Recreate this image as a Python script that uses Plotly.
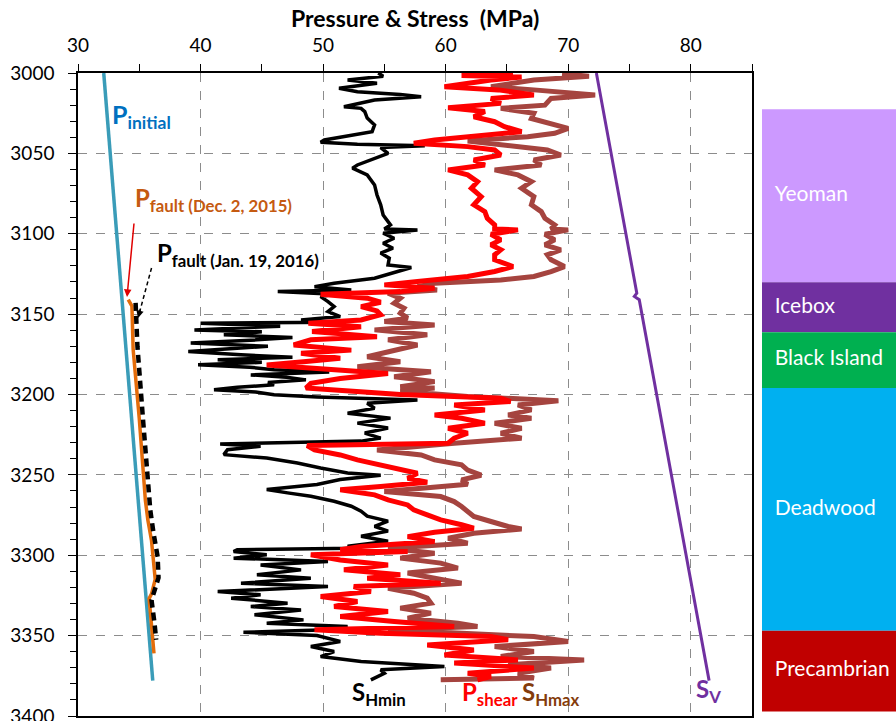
import plotly.graph_objects as go

# ---------------- data ----------------
shmin_depth = [3000, 3002, 3004.3, 3006.4, 3009.5, 3011.6, 3013.3, 3014.7, 3016.8, 3021, 3022, 3024, 3028, 3032.3,
               3036.5, 3038.6, 3041.7, 3043.1, 3044.4, 3045.2, 3046.4, 3050, 3053, 3057.2, 3059.2, 3063.4, 3069.6,
               3075.9, 3082, 3088.3, 3094.5, 3097.0, 3097.6, 3099.7, 3102.8, 3105.9, 3109, 3112, 3115.2, 3119.4,
               3121, 3123.5, 3127.7, 3130.8, 3132.9, 3135, 3136, 3137.6, 3139.1, 3142.2, 3145.3, 3148.4, 3151.5,
               3153.6, 3155.0, 3155.6, 3157.5, 3159.8, 3161, 3162.9, 3164.5, 3166, 3168, 3170, 3171.5, 3173.3,
               3175.3, 3176.8, 3178.4, 3180, 3181.5, 3183, 3184.6, 3186, 3187.8, 3189.3, 3190.9, 3192.5, 3194,
               3195.5, 3197.1, 3198.5, 3200.2, 3201.5, 3203.4, 3205.4, 3208.5, 3211.6, 3214.7,
               3217.8, 3220.9, 3224, 3227.1, 3229, 3230.8, 3232.2, 3234.3, 3237.4, 3239.5, 3242.6, 3245.7, 3248.8,
               3250.2, 3252.9, 3256, 3259.1, 3261.2, 3263.3, 3266.4, 3269.5, 3272.6, 3275.7, 3278.8, 3282, 3285,
               3288.2, 3291.3, 3294.4, 3295.6, 3296.5, 3297.7, 3299.7, 3301.8, 3303.9, 3306, 3309.1, 3312.2, 3314.3,
               3317.4, 3319.5, 3322.6, 3324.6, 3326.7, 3329.8, 3331.9, 3334, 3337, 3340.2, 3342.3, 3344.3, 3346.4,
               3347.9, 3349.9, 3353.6, 3356.8, 3359.9, 3363, 3366.1, 3369.2, 3371.3, 3373.4, 3375.4, 3377.5]
shmin_mpa = [54.5, 54.9, 52.0, 54.4, 51.3, 52.8, 56.3, 58.0, 54.2, 51.7, 53.1, 53.4, 53.6, 54.2,
             54.0, 52.5, 50.1, 49.8, 52.8, 58.3, 54.7, 55.3, 54.2, 52.8, 52.4, 53.6, 54.2,
             54.4, 54.7, 54.9, 55.5, 55.0, 57.7, 54.9, 55.8, 54.9, 55.7, 54.7, 55.4, 55.3,
             57.2, 56.1, 54.2, 50.9, 49.3, 52.3, 46.3, 50.9, 49.8, 50.4, 50.9, 50.4, 51.4,
             48.2, 51.6, 40.0, 46.5, 39.5, 45.0, 41.9, 47.5, 44.6, 39.2, 45.5, 42.0, 39.0,
             43.3, 47.5, 41.4, 45.0, 39.8, 44.0, 46.0, 50.5, 44.1, 47.0, 48.6, 45.5, 46.0,
             43.0, 41.1, 44.5, 46.0, 49.5, 57.7, 53.6, 54.2, 52.0, 55.5,
             52.8, 55.3, 53.4, 54.7, 53.1, 41.6, 44.9, 42.2, 41.9, 45.4, 47.9, 49.8, 52.0,
             54.7, 51.4, 49.5, 45.4, 47.1, 49.0, 50.9, 52.3, 53.1, 53.6, 55.3, 54.2, 55.3,
             53.1, 55.3, 52.0, 52.5, 43.0, 42.7, 45.4, 42.7, 50.4, 44.9, 48.2, 44.6, 49.0,
             43.3, 50.4, 41.4, 44.9, 42.5, 47.1, 44.1, 48.2, 44.4, 48.4, 45.4, 52.0, 50.4,
             43.5, 49.5, 51.4, 49.0, 50.9, 49.8, 53.1, 59.9, 54.7, 55.0, 54.4, 53.9]

pshear_depth = [3000.5, 3001.5, 3002.5, 3004.3, 3008.5, 3010.5, 3013.7, 3015.8, 3018.9, 3021.6, 3024, 3027.2,
                3030.3, 3033.4, 3036.5, 3038.6, 3041.7, 3043.7, 3045.8, 3047.9, 3051, 3054.1, 3057.2, 3060.3,
                3063.4, 3067.6, 3071.7, 3076.9, 3082, 3086.2, 3090.4, 3094.5, 3097.0, 3097.6, 3100.3, 3103.8,
                3106.9, 3110, 3113.1, 3116.2, 3120.4, 3123.5, 3126.6, 3129.7, 3131.8, 3133.9, 3136, 3137.6,
                3140.1, 3142.6, 3145.3, 3148, 3150.4, 3153.6, 3155.7, 3157.8, 3160.8, 3164, 3166, 3169.2,
                3172.4, 3174.4, 3177.5, 3179.6, 3181.7, 3183.8, 3186.9, 3190, 3193.1, 3196, 3198, 3200,
                3202.3, 3204.4, 3206.5, 3209.6, 3212.7, 3214.8, 3217.9, 3221, 3224.1, 3227.2, 3230.3, 3231.8,
                3234.5, 3237.6, 3240.7, 3243.8, 3247, 3249, 3252.1, 3254.6, 3257.3, 3259.3, 3262.4, 3265.6,
                3268.7, 3271.8, 3274.9, 3278, 3281, 3283.2, 3285.7, 3288.4, 3291.5, 3294.6, 3296.6, 3297.7,
                3299.7, 3302.9, 3306, 3309, 3312.2, 3314.3, 3317.4, 3319.5, 3322.6, 3325.7, 3328.8, 3331.9,
                3335, 3338.1, 3341.2, 3344.3, 3346.4, 3348.5, 3350.6, 3352.6, 3355.8, 3358.9, 3362, 3365.1,
                3367.1, 3370.2, 3373.4, 3375.4, 3377.5]
pshear_mpa = [65.5, 61.3, 66.2, 63.7, 59.9, 64.3, 67.2, 63.7, 64.5, 60.2, 63.2, 62.3,
              64.0, 64.8, 66.2, 63.2, 59.1, 57.4, 61.8, 64.0, 64.5, 62.3, 63.2, 60.2,
              61.8, 62.6, 62.1, 62.9, 62.3, 63.2, 63.4, 64.0, 64.0, 65.9, 63.7, 64.5,
              63.7, 64.5, 64.0, 64.0, 65.5, 64.0, 61.8, 57.7, 55.0, 59.1, 56.3, 49.8,
              53.6, 54.7, 53.1, 54.4, 54.7, 53.1, 48.8, 53.1, 49.1, 54.4, 49.0, 47.6,
              52.3, 48.2, 51.4, 48.4, 45.4, 49.5, 55.3, 51.4, 49.0, 48.6, 52.3, 56.3,
              64.5, 65.3, 60.7, 63.2, 59.1, 61.3, 63.2, 60.2, 61.8, 60.7, 60.2, 48.7,
              49.3, 51.4, 52.8, 54.7, 56.3, 57.7, 56.9, 58.5, 54.7, 51.4, 54.2, 55.3,
              56.9, 57.4, 58.5, 59.6, 61.3, 62.3, 59.1, 56.9, 59.1, 53.1, 51.4, 56.9,
              49.0, 51.4, 55.3, 51.7, 56.3, 53.6, 59.6, 52.5, 53.9, 49.8, 52.8, 50.9,
              55.3, 51.4, 55.8, 60.7, 49.3, 54.7, 63.7, 65.1, 58.5, 62.3, 59.9, 65.9,
              60.7, 67.2, 61.8, 63.7, 62.6]

shmax_depth = [3000.5, 3002, 3004.3, 3008.5, 3010.5, 3013.7, 3015.8, 3020, 3022, 3025, 3028.3, 3032.3, 3034.4,
               3037.5, 3039.6, 3042.3, 3044.7, 3047.9, 3051, 3054.1, 3057.2, 3060.3, 3063.4, 3067.6, 3071.7,
               3076.9, 3082, 3086.2, 3090.4, 3094.5, 3097.0, 3097.6, 3100.3, 3103.8, 3106.9, 3110, 3113.1,
               3116.2, 3120.4, 3123.5, 3126.6, 3128.7, 3130.8, 3132.9, 3135, 3137, 3140.1, 3143.2, 3146.3,
               3149.4, 3152.5, 3154.6, 3156.7, 3159.8, 3162.9, 3166, 3169.2, 3173.3, 3176.5, 3179.6, 3182.7,
               3185.8, 3189, 3192, 3195.2, 3196, 3198, 3201.2, 3203.9, 3206.5, 3209.6, 3212.7, 3214.8, 3217.9,
               3221, 3224.1, 3227.2, 3230.3, 3231.8, 3234.5, 3237.6, 3240.7, 3243.8, 3247, 3250.2, 3253.1,
               3255.8, 3258.3, 3260.4, 3263.5, 3266.6, 3269.7, 3272.8, 3275.9, 3279, 3282.1, 3283.6, 3286.3,
               3289.4, 3292.5, 3295.6, 3298.7, 3301.8, 3304.9, 3308, 3311.1, 3314.3, 3317.4, 3320.5, 3323.6,
               3326.7, 3329.8, 3332.9, 3336, 3339.2, 3342.3, 3344.3, 3346.4, 3348.5, 3350.6, 3353.6, 3356.8,
               3359.9, 3363, 3365.1, 3368.1, 3370.2, 3373.4, 3376.4, 3377.5]
shmax_mpa = [69.5, 71.7, 67.2, 63.7, 67.2, 72.2, 68.6, 68.1, 64.5, 67.2, 67.0, 68.9, 70.0,
             68.9, 66.7, 61.8, 64.5, 68.3, 69.4, 67.2, 67.8, 64.0, 65.9, 67.0, 66.2,
             67.2, 67.0, 67.8, 68.1, 68.9, 68.6, 70.0, 68.1, 68.9, 68.1, 69.4, 68.3,
             68.6, 69.7, 68.6, 67.2, 64.5, 59.1, 57.7, 59.3, 55.3, 56.3, 55.8, 56.6,
             56.3, 56.9, 55.0, 59.1, 54.2, 58.5, 55.3, 57.7, 55.3, 53.6, 56.3, 52.8,
             58.8, 55.8, 59.1, 56.3, 59.1, 56.3, 61.8, 69.2, 65.9, 67.0, 65.1, 67.0, 64.0,
             66.2, 64.5, 66.2, 60.7, 58.0, 54.4, 58.0, 59.1, 61.3, 61.8, 62.9, 61.3,
             61.8, 57.4, 55.0, 59.6, 60.7, 61.3, 61.8, 62.3, 63.7, 65.1, 66.2, 62.3,
             60.2, 61.8, 55.3, 59.1, 56.3, 59.6, 61.0, 56.9, 59.1, 61.3, 55.3, 57.4,
             58.5, 58.8, 56.3, 58.8, 56.9, 61.0, 62.6, 55.3, 61.3, 67.2, 70.0, 64.0,
             67.2, 64.5, 71.3, 65.1, 68.6, 65.9, 67.2, 59.6]

sv_depth = [3000, 3137, 3139, 3141, 3378]
sv_mpa = [72.3, 75.6, 75.4, 75.8, 81.5]

pinit_depth = [3000, 3378]
pinit_mpa = [32.1, 36.1]

pfault_dec_depth = [3141, 3145, 3172, 3215, 3266, 3278, 3291, 3315, 3324, 3327, 3335, 3361]
pfault_dec_mpa = [34.1, 34.4, 34.5, 35.0, 35.5, 35.7, 36.0, 36.3, 36.0, 35.8, 35.9, 36.2]

pfault_jan_depth = [3143, 3153.6, 3170, 3215, 3272, 3286, 3301, 3314, 3322.6, 3328, 3342, 3352.6]
pfault_jan_mpa = [34.7, 34.75, 34.85, 35.3, 35.9, 36.16, 36.5, 36.57, 36.16, 36.0, 36.24, 36.38]

formations = ["Yeoman", "Icebox", "Black Island", "Deadwood", "Precambrian"]
form_top = [3022.5, 3130.2, 3161.3, 3196.0, 3347.0]
form_bottom = [3130.2, 3161.3, 3196.0, 3347.0, 3397.2]
form_colors = ["#CC99FF", "#7030A0", "#00B050", "#00B0F0", "#C00000"]

x_ticks = [30, 40, 50, 60, 70, 80]
y_ticks = [3000, 3050, 3100, 3150, 3200, 3250, 3300, 3350, 3400]

FONT = "Lato"
W, H = 896, 721

fig = go.Figure()

# formation column
thick = [b - t for t, b in zip(form_top, form_bottom)]
centers = [(t + b) / 2 for t, b in zip(form_top, form_bottom)]
fig.add_trace(go.Bar(x=[0.6] * len(formations), y=thick, base=form_top, width=1.2,
                     marker=dict(color=form_colors, line=dict(width=0)),
                     xaxis="x2", yaxis="y2", showlegend=False, hoverinfo="skip"))
fig.add_trace(go.Scatter(x=[0.095] * len(formations), y=centers, text=formations, mode="text",
                         textposition="middle right",
                         textfont=dict(family=FONT, size=21, color="white"),
                         xaxis="x2", yaxis="y2", showlegend=False, hoverinfo="skip"))

# curves
fig.add_trace(go.Scatter(x=shmax_mpa, y=shmax_depth, mode="lines",
                         line=dict(color="#A5443F", width=5), showlegend=False))
fig.add_trace(go.Scatter(x=shmin_mpa, y=shmin_depth, mode="lines",
                         line=dict(color="black", width=3.5), showlegend=False))
fig.add_trace(go.Scatter(x=pshear_mpa, y=pshear_depth, mode="lines",
                         line=dict(color="#FF0000", width=5), showlegend=False))
fig.add_trace(go.Scatter(x=sv_mpa, y=sv_depth, mode="lines",
                         line=dict(color="#7030A0", width=3), showlegend=False))
fig.add_trace(go.Scatter(x=pinit_mpa, y=pinit_depth, mode="lines",
                         line=dict(color="#3A9CB8", width=3.5), showlegend=False))
fig.add_trace(go.Scatter(x=pfault_dec_mpa, y=pfault_dec_depth, mode="lines",
                         line=dict(color="#E46C0A", width=3.5), showlegend=False))
fig.add_trace(go.Scatter(x=pfault_jan_mpa, y=pfault_jan_depth, mode="lines",
                         line=dict(color="black", width=4.5, dash="8px,5px"), showlegend=False))
# dashed pointer for Jan label
fig.add_trace(go.Scatter(x=[36.0, 35.0], y=[3121.3, 3149.5], mode="lines",
                         line=dict(color="black", width=1.5, dash="4px,3px"),
                         showlegend=False, hoverinfo="skip"))

annotations = [
    dict(x=32.6, y=3027, text="<b>P<sub>initial</sub></b>", showarrow=False, xanchor="left",
         yanchor="middle", font=dict(family=FONT, size=25, color="#0070C0")),
    dict(x=34.5, y=3079, text="<b>P<sub>fault (Dec. 2, 2015)</sub></b>", showarrow=False,
         xanchor="left", yanchor="middle", font=dict(family=FONT, size=24, color="#C55A11")),
    dict(x=36.3, y=3113, text="<b>P<sub>fault (Jan. 19, 2016)</sub></b>", showarrow=False,
         xanchor="left", yanchor="middle", font=dict(family=FONT, size=24, color="black")),
    dict(x=34.0, y=3139.3, ax=34.58, ay=3092.7, axref="x", ayref="y", text="", showarrow=True,
         arrowhead=2, arrowsize=1, arrowwidth=1.5, arrowcolor="#E00000"),
    dict(x=34.9, y=3152.4, ax=2.6, ay=-10, text="", showarrow=True,
         arrowhead=2, arrowsize=1, arrowwidth=1.5, arrowcolor="black"),
    dict(x=52.2, y=3386, text="<b>S<sub>Hmin</sub></b>", showarrow=False, xanchor="left",
         yanchor="middle", font=dict(family=FONT, size=24, color="black")),
    dict(x=61.2, y=3386, text="<b>P<sub>shear</sub></b>", showarrow=False, xanchor="left",
         yanchor="middle", font=dict(family=FONT, size=24, color="#FF0000")),
    dict(x=66.1, y=3386, text="<b>S<sub>Hmax</sub></b>", showarrow=False, xanchor="left",
         yanchor="middle", font=dict(family=FONT, size=24, color="#843C0C")),
    dict(x=80.3, y=3384, text="<b>S<sub>V</sub></b>", showarrow=False, xanchor="left",
         yanchor="middle", font=dict(family=FONT, size=24, color="#7030A0")),
    dict(x=0.5, xref="x domain", y=(716 - 18) / 643, yref="paper", yanchor="middle",
         text="<b>Pressure & Stress  (MPa)</b>", showarrow=False,
         font=dict(family=FONT, size=23, color="black")),
]

x0, x1 = 78 / W, 752 / W
fig.update_layout(
    width=W, height=H, margin=dict(l=0, r=0, t=73, b=5, autoexpand=False),
    paper_bgcolor="white", plot_bgcolor="white",
    font=dict(family=FONT, size=19, color="black"),
    showlegend=False,
    annotations=annotations,
    xaxis=dict(domain=[x0, x1], range=[30, 85], side="top", tickvals=x_ticks, automargin=False,
               ticks="outside", ticklen=7, tickcolor="black", ticklabelstandoff=5,
               minor=dict(dtick=5, tick0=30, ticks="outside", ticklen=7, tickcolor="black", showgrid=False),
               showline=True, linecolor="black", linewidth=1.5, mirror=True,
               showgrid=True, gridcolor="#8C8C8C", griddash="dash", gridwidth=1,
               zeroline=False),
    yaxis=dict(range=[3400, 3000], tickvals=y_ticks, ticks="outside", ticklen=8, tickcolor="black",
               ticklabelstandoff=10, automargin=False, ticklabeloverflow="allow",
               minor=dict(dtick=10, ticks="outside", ticklen=6, tickcolor="black", showgrid=False),
               showline=True, linecolor="black", linewidth=1.5, mirror=True,
               showgrid=True, gridcolor="#8C8C8C", griddash="dash", gridwidth=1, zeroline=False),
    xaxis2=dict(domain=[762 / W, 1.0], range=[0, 1], visible=False, anchor="y2", automargin=False),
    yaxis2=dict(range=[3400, 3000], visible=False, anchor="x2", automargin=False),
)

fig.write_html("out.html")
